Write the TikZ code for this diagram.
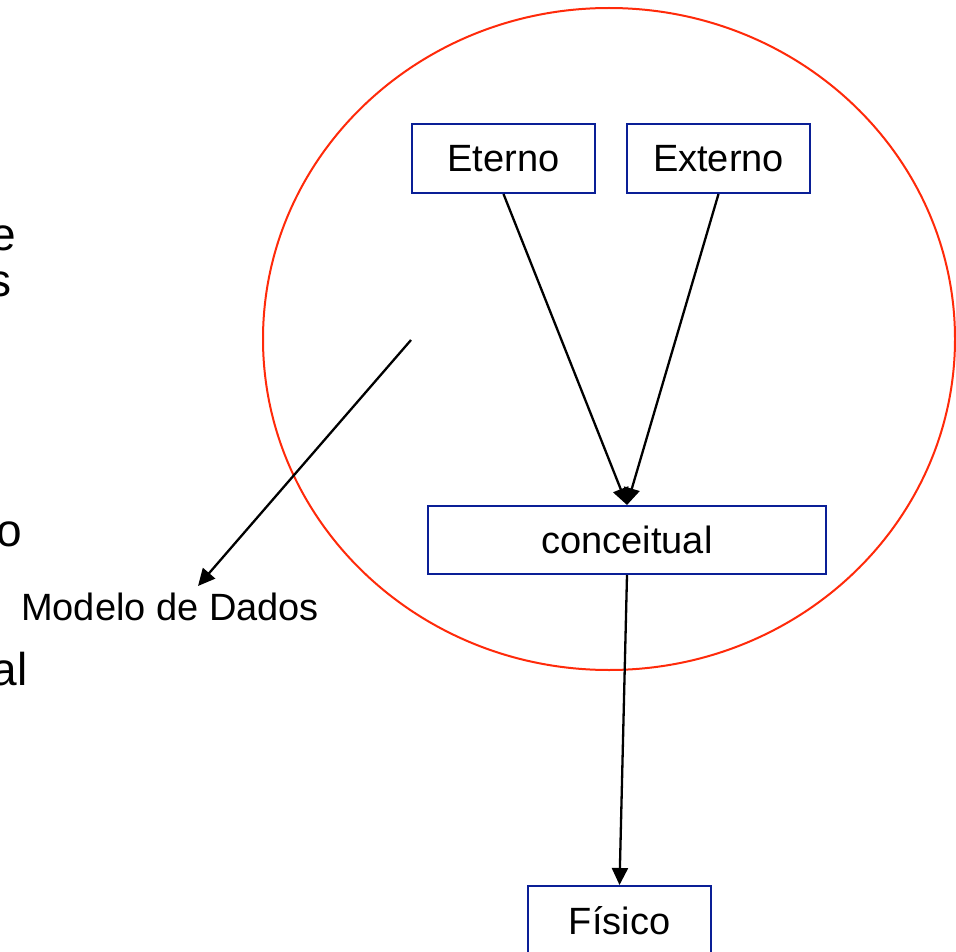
\documentclass[tikz,border=0pt]{standalone}
\usepackage{fontspec}
\setmainfont{Liberation Sans}
\usetikzlibrary{arrows.meta}
\definecolor{boxblue}{HTML}{0A1F96}
\definecolor{ringred}{HTML}{FF2A0A}
\tikzset{
  levelbox/.style={draw=boxblue, line width=2pt, fill=white, inner sep=0pt,
    minimum height=69pt, text height=27pt, text depth=0pt,
    font=\fontsize{38}{46}\selectfont},
  conn/.style={line width=2.3pt, -{Triangle[length=17pt,width=16pt]}},
  frag/.style={anchor=base east, inner sep=0pt, font=\fontsize{46}{54}\selectfont},
  lbl/.style={anchor=base west, inner sep=0pt, font=\fontsize{38}{46}\selectfont}
}
\begin{document}
\begin{tikzpicture}[x=1pt,y=-1pt]
\useasboundingbox (0,0) rectangle (956,952);
\fill[white] (0,0) rectangle (956,952);
% fragments of cut-off text
\node[frag] (f1) at (16,251) {e};
\node[frag] (f2) at (12,296) {s};
\node[frag] (f3) at (22,546) {o};
\node[frag] (f4) at (28,685) {al};
% ring
\draw[ringred, line width=2pt] (609,339) ellipse [x radius=346pt, y radius=331pt];
% boxes
\node[levelbox, minimum width=183pt] (eterno) at (503.5,158.5) {Eterno};
\node[levelbox, minimum width=183pt] (externo) at (718.5,158.5) {Externo};
\node[levelbox, minimum width=398pt, minimum height=68pt] (conc) at (627,540) {conceitual};
\node[levelbox, minimum width=183pt] (fisico) at (619.5,920.5) {Físico};
% label
\node[lbl] (modelo) at (21,620) {Modelo de Dados};
\coordinate (mstart) at (411,340);
\coordinate (mend) at (198,586);
% connectors
\draw[conn] (eterno.south) -- (conc.north);
\draw[conn] (externo.south) -- (conc.north);
\draw[conn] (conc.south) -- (fisico.north);
\draw[conn] (mstart) -- (mend);
\end{tikzpicture}
\end{document}
